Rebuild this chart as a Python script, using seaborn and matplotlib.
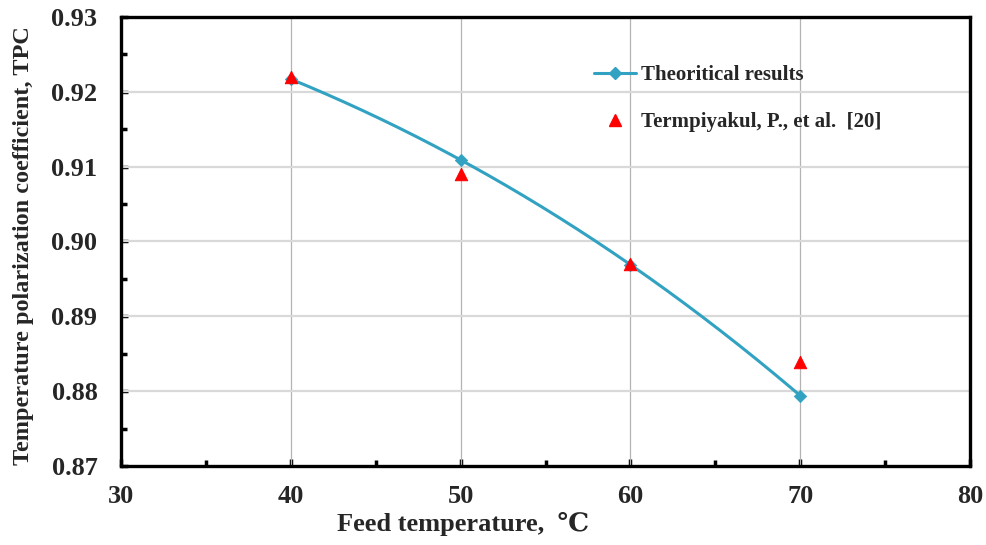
import numpy as np
import pandas as pd
import matplotlib
matplotlib.use("Agg")
import matplotlib.pyplot as plt
import seaborn as sns
from matplotlib.ticker import MultipleLocator
from matplotlib.lines import Line2D

# data
feed_temp = [40, 50, 60, 70]
theoretical = [0.9217, 0.9109, 0.8969, 0.8794]
exp_temp = [40, 50, 60, 70]
experimental = [0.9220, 0.9090, 0.8970, 0.8839]
legend_labels = ["Theoritical results", "Termpiyakul, P., et al.  [20]"]

sns.set_style("white")
plt.rcParams['font.family'] = ['Liberation Serif', 'DejaVu Serif']
plt.rcParams['font.weight'] = 'bold'

fig = plt.figure(figsize=(9.87, 5.45), dpi=100)
ax = fig.add_axes([0.1226, 0.145, 0.8602, 0.8238])

# smooth curve through the theoretical points (cubic interpolation)
coef = np.polyfit(feed_temp, theoretical, 3)
xs = np.linspace(min(feed_temp), max(feed_temp), 200)
smooth = pd.DataFrame({"x": xs, "y": np.polyval(coef, xs)})
line_color = "#32a2c2"
sns.lineplot(data=smooth, x="x", y="y", ax=ax, color=line_color, lw=2.2, zorder=3)
sns.scatterplot(x=feed_temp, y=theoretical, ax=ax, marker="D", s=40, color=line_color,
                edgecolor=line_color, zorder=4)
sns.scatterplot(x=exp_temp, y=experimental, ax=ax, marker="^", s=80, color="#ff0000",
                edgecolor="#ff0000", zorder=5)

ax.set_xlim(30, 80)
ax.set_ylim(0.87, 0.93)
ax.xaxis.set_major_locator(MultipleLocator(10))
ax.xaxis.set_minor_locator(MultipleLocator(5))
ax.yaxis.set_major_locator(MultipleLocator(0.01))
ax.yaxis.set_minor_locator(MultipleLocator(0.005))
ax.yaxis.set_major_formatter(matplotlib.ticker.FormatStrFormatter('%.2f'))

ax.grid(False)
for x in [40, 50, 60, 70]:
    ax.axvline(x, color="#b4b4b4", lw=0.9, zorder=1)
for y in [0.88, 0.89, 0.90, 0.91, 0.92]:
    ax.axhline(y, color="#d9d9d9", lw=1.6, zorder=1)

for s in ax.spines.values():
    s.set_linewidth(2.4)
    s.set_color("black")
ax.tick_params(axis='both', which='both', direction='in', color='black',
               bottom=True, left=True, top=False, right=False)
ax.tick_params(which='major', length=5, width=2.5, labelsize=19)
ax.tick_params(axis='x', which='major', pad=14)
ax.tick_params(axis='y', which='major', pad=17)
ax.tick_params(which='minor', length=4, width=2.5)
for lab in ax.get_xticklabels() + ax.get_yticklabels():
    lab.set_fontweight('bold')

ax.set_xlabel("Feed temperature,  \u2103", fontsize=19, fontweight='bold')
ax.xaxis.set_label_coords(0.403, -0.102)
ax.set_ylabel("Temperature polarization coefficient, TPC", fontsize=17.5, fontweight='bold')
ax.yaxis.set_label_coords(-0.103, 0.49)

handles = [
    Line2D([0], [0], color=line_color, lw=2.2, marker="D", markersize=6),
    Line2D([0], [0], color="#ff0000", lw=0, marker="^", markersize=9),
]
leg = ax.legend(handles, legend_labels,
                loc="upper left", bbox_to_anchor=(0.535, 0.935), frameon=False,
                prop={'family': 'Liberation Serif', 'weight': 'bold', 'size': 15},
                handlelength=2.0, handletextpad=0.25, labelspacing=1.3)

fig.savefig("out.png", dpi=100)
